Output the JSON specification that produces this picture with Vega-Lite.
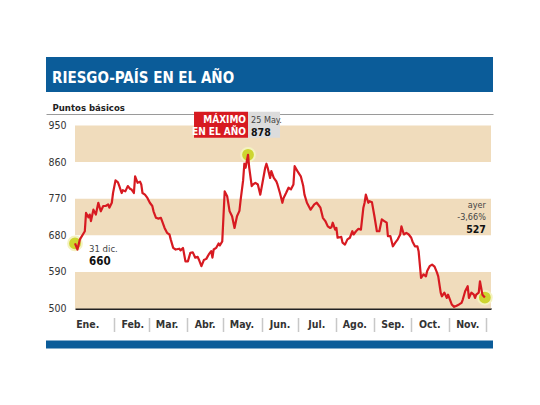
{
  "$schema": "https://vega.github.io/schema/vega-lite/v6.json",
  "description": "Riesgo-país en el año, puntos básicos (31 dic. a fines de noviembre).",
  "padding": {"left": 46, "top": 57, "right": 0, "bottom": 0},
  "background": "white",
  "datasets": {
    "franjas": [
      {"desde": 500, "hasta": 590},
      {"desde": 680, "hasta": 770},
      {"desde": 860, "hasta": 950}
    ],
    "hitos": [
      {"nombre": "inicio", "fecha": "2009-12-31", "valor": 660, "etiqueta": "31 dic."},
      {"nombre": "maximo", "fecha": "2010-05-21", "valor": 878, "etiqueta": "25 May."},
      {"nombre": "ayer", "fecha": "2010-11-30", "valor": 527, "etiqueta": "ayer", "variacion": "-3,66%"}
    ],
    "riesgo": [
      {"fecha": "2009-12-31", "valor": 660}, {"fecha": "2010-01-02", "valor": 645},
      {"fecha": "2010-01-04", "valor": 670}, {"fecha": "2010-01-08", "valor": 690},
      {"fecha": "2010-01-09", "valor": 735}, {"fecha": "2010-01-11", "valor": 724},
      {"fecha": "2010-01-12", "valor": 731}, {"fecha": "2010-01-13", "valor": 715},
      {"fecha": "2010-01-15", "valor": 743}, {"fecha": "2010-01-17", "valor": 731},
      {"fecha": "2010-01-19", "valor": 760}, {"fecha": "2010-01-21", "valor": 739},
      {"fecha": "2010-01-23", "valor": 752}, {"fecha": "2010-01-25", "valor": 752},
      {"fecha": "2010-01-27", "valor": 756}, {"fecha": "2010-01-28", "valor": 748},
      {"fecha": "2010-01-30", "valor": 760}, {"fecha": "2010-01-31", "valor": 784},
      {"fecha": "2010-02-02", "valor": 815}, {"fecha": "2010-02-04", "valor": 810},
      {"fecha": "2010-02-05", "valor": 802}, {"fecha": "2010-02-07", "valor": 784},
      {"fecha": "2010-02-08", "valor": 791}, {"fecha": "2010-02-10", "valor": 788},
      {"fecha": "2010-02-12", "valor": 801}, {"fecha": "2010-02-14", "valor": 794},
      {"fecha": "2010-02-15", "valor": 793}, {"fecha": "2010-02-17", "valor": 784},
      {"fecha": "2010-02-18", "valor": 825}, {"fecha": "2010-02-20", "valor": 809},
      {"fecha": "2010-02-22", "valor": 812}, {"fecha": "2010-02-23", "valor": 805},
      {"fecha": "2010-02-24", "valor": 784}, {"fecha": "2010-02-26", "valor": 780},
      {"fecha": "2010-02-28", "valor": 772}, {"fecha": "2010-03-02", "valor": 760},
      {"fecha": "2010-03-04", "valor": 752}, {"fecha": "2010-03-05", "valor": 739},
      {"fecha": "2010-03-07", "valor": 723}, {"fecha": "2010-03-09", "valor": 721},
      {"fecha": "2010-03-11", "valor": 723}, {"fecha": "2010-03-12", "valor": 715},
      {"fecha": "2010-03-14", "valor": 698}, {"fecha": "2010-03-16", "valor": 686},
      {"fecha": "2010-03-18", "valor": 682}, {"fecha": "2010-03-19", "valor": 670},
      {"fecha": "2010-03-21", "valor": 649}, {"fecha": "2010-03-23", "valor": 645},
      {"fecha": "2010-03-26", "valor": 647}, {"fecha": "2010-03-27", "valor": 643},
      {"fecha": "2010-03-29", "valor": 649}, {"fecha": "2010-03-31", "valor": 616},
      {"fecha": "2010-04-02", "valor": 616}, {"fecha": "2010-04-04", "valor": 637},
      {"fecha": "2010-04-06", "valor": 638}, {"fecha": "2010-04-08", "valor": 625},
      {"fecha": "2010-04-10", "valor": 627}, {"fecha": "2010-04-11", "valor": 620},
      {"fecha": "2010-04-13", "valor": 604}, {"fecha": "2010-04-15", "valor": 619},
      {"fecha": "2010-04-17", "valor": 622}, {"fecha": "2010-04-19", "valor": 633},
      {"fecha": "2010-04-21", "valor": 641}, {"fecha": "2010-04-22", "valor": 625},
      {"fecha": "2010-04-23", "valor": 645}, {"fecha": "2010-04-25", "valor": 649},
      {"fecha": "2010-04-27", "valor": 660}, {"fecha": "2010-04-28", "valor": 655},
      {"fecha": "2010-04-30", "valor": 665}, {"fecha": "2010-05-01", "valor": 727},
      {"fecha": "2010-05-02", "valor": 788}, {"fecha": "2010-05-04", "valor": 776},
      {"fecha": "2010-05-06", "valor": 739}, {"fecha": "2010-05-08", "valor": 727},
      {"fecha": "2010-05-10", "valor": 698}, {"fecha": "2010-05-12", "valor": 727},
      {"fecha": "2010-05-14", "valor": 740}, {"fecha": "2010-05-15", "valor": 768},
      {"fecha": "2010-05-17", "valor": 815}, {"fecha": "2010-05-18", "valor": 856},
      {"fecha": "2010-05-19", "valor": 846}, {"fecha": "2010-05-21", "valor": 878},
      {"fecha": "2010-05-22", "valor": 846}, {"fecha": "2010-05-24", "valor": 801},
      {"fecha": "2010-05-25", "valor": 805}, {"fecha": "2010-05-27", "valor": 809},
      {"fecha": "2010-05-29", "valor": 805}, {"fecha": "2010-05-31", "valor": 780},
      {"fecha": "2010-06-02", "valor": 813}, {"fecha": "2010-06-04", "valor": 846},
      {"fecha": "2010-06-05", "valor": 856}, {"fecha": "2010-06-06", "valor": 846},
      {"fecha": "2010-06-08", "valor": 821}, {"fecha": "2010-06-09", "valor": 838},
      {"fecha": "2010-06-11", "valor": 821}, {"fecha": "2010-06-13", "valor": 813},
      {"fecha": "2010-06-14", "valor": 805}, {"fecha": "2010-06-16", "valor": 784},
      {"fecha": "2010-06-18", "valor": 760}, {"fecha": "2010-06-19", "valor": 772},
      {"fecha": "2010-06-21", "valor": 784}, {"fecha": "2010-06-23", "valor": 797},
      {"fecha": "2010-06-25", "valor": 793}, {"fecha": "2010-06-27", "valor": 805},
      {"fecha": "2010-06-28", "valor": 850}, {"fecha": "2010-06-30", "valor": 839},
      {"fecha": "2010-07-03", "valor": 825}, {"fecha": "2010-07-05", "valor": 801},
      {"fecha": "2010-07-06", "valor": 780}, {"fecha": "2010-07-08", "valor": 760},
      {"fecha": "2010-07-11", "valor": 743}, {"fecha": "2010-07-14", "valor": 756},
      {"fecha": "2010-07-16", "valor": 760}, {"fecha": "2010-07-18", "valor": 752},
      {"fecha": "2010-07-19", "valor": 748}, {"fecha": "2010-07-21", "valor": 723},
      {"fecha": "2010-07-23", "valor": 715}, {"fecha": "2010-07-25", "valor": 702},
      {"fecha": "2010-07-27", "valor": 698}, {"fecha": "2010-07-28", "valor": 700},
      {"fecha": "2010-07-29", "valor": 711}, {"fecha": "2010-07-31", "valor": 694},
      {"fecha": "2010-08-01", "valor": 698}, {"fecha": "2010-08-02", "valor": 674},
      {"fecha": "2010-08-05", "valor": 676}, {"fecha": "2010-08-06", "valor": 662},
      {"fecha": "2010-08-08", "valor": 657}, {"fecha": "2010-08-10", "valor": 670},
      {"fecha": "2010-08-12", "valor": 674}, {"fecha": "2010-08-14", "valor": 690},
      {"fecha": "2010-08-15", "valor": 682}, {"fecha": "2010-08-17", "valor": 690},
      {"fecha": "2010-08-19", "valor": 696}, {"fecha": "2010-08-21", "valor": 694},
      {"fecha": "2010-08-23", "valor": 748}, {"fecha": "2010-08-24", "valor": 760},
      {"fecha": "2010-08-25", "valor": 780}, {"fecha": "2010-08-27", "valor": 760},
      {"fecha": "2010-08-28", "valor": 764}, {"fecha": "2010-08-30", "valor": 761},
      {"fecha": "2010-09-01", "valor": 727}, {"fecha": "2010-09-03", "valor": 690},
      {"fecha": "2010-09-05", "valor": 690}, {"fecha": "2010-09-07", "valor": 719},
      {"fecha": "2010-09-09", "valor": 715}, {"fecha": "2010-09-11", "valor": 711},
      {"fecha": "2010-09-12", "valor": 678}, {"fecha": "2010-09-14", "valor": 678},
      {"fecha": "2010-09-16", "valor": 653}, {"fecha": "2010-09-18", "valor": 662},
      {"fecha": "2010-09-20", "valor": 670}, {"fecha": "2010-09-22", "valor": 682},
      {"fecha": "2010-09-23", "valor": 702}, {"fecha": "2010-09-25", "valor": 682},
      {"fecha": "2010-09-27", "valor": 686}, {"fecha": "2010-09-29", "valor": 682},
      {"fecha": "2010-10-01", "valor": 674}, {"fecha": "2010-10-02", "valor": 665},
      {"fecha": "2010-10-04", "valor": 653}, {"fecha": "2010-10-06", "valor": 653},
      {"fecha": "2010-10-07", "valor": 641}, {"fecha": "2010-10-09", "valor": 575},
      {"fecha": "2010-10-11", "valor": 584}, {"fecha": "2010-10-13", "valor": 579},
      {"fecha": "2010-10-14", "valor": 592}, {"fecha": "2010-10-16", "valor": 604},
      {"fecha": "2010-10-18", "valor": 608}, {"fecha": "2010-10-20", "valor": 603},
      {"fecha": "2010-10-22", "valor": 588}, {"fecha": "2010-10-23", "valor": 579},
      {"fecha": "2010-10-25", "valor": 539}, {"fecha": "2010-10-26", "valor": 530},
      {"fecha": "2010-10-28", "valor": 539}, {"fecha": "2010-10-30", "valor": 526},
      {"fecha": "2010-10-31", "valor": 534}, {"fecha": "2010-11-02", "valor": 518},
      {"fecha": "2010-11-03", "valor": 510}, {"fecha": "2010-11-05", "valor": 504},
      {"fecha": "2010-11-07", "valor": 507}, {"fecha": "2010-11-09", "valor": 510},
      {"fecha": "2010-11-11", "valor": 514}, {"fecha": "2010-11-12", "valor": 522},
      {"fecha": "2010-11-14", "valor": 543}, {"fecha": "2010-11-16", "valor": 555},
      {"fecha": "2010-11-17", "valor": 526}, {"fecha": "2010-11-19", "valor": 539},
      {"fecha": "2010-11-21", "valor": 534}, {"fecha": "2010-11-22", "valor": 526},
      {"fecha": "2010-11-23", "valor": 534}, {"fecha": "2010-11-25", "valor": 539},
      {"fecha": "2010-11-26", "valor": 567}, {"fecha": "2010-11-28", "valor": 534},
      {"fecha": "2010-11-30", "valor": 527}
    ]
  },
  "spacing": -2.5,
  "vconcat": [
    {
      "data": {"values": [{}]},
      "width": 418,
      "height": 35,
      "title": {
        "text": "RIESGO-PAÍS EN EL AÑO",
        "anchor": "start",
        "frame": "group",
        "orient": "top",
        "offset": -29,
        "dx": -23,
        "color": "white",
        "fontSize": 15,
        "fontWeight": "bold"
      },
      "mark": {"type": "rect", "color": "#0b5c99"},
      "encoding": {
        "x": {
          "datum": 0,
          "type": "quantitative",
          "scale": {"domain": [0, 1], "range": [-29, 418]},
          "axis": {
            "orient": "bottom",
            "offset": 22,
            "domainColor": "#9a9a9a",
            "domainWidth": 1,
            "ticks": false,
            "labels": false,
            "grid": false,
            "title": "Puntos básicos",
            "titleX": -23,
            "titleY": -4,
            "titleAlign": "left",
            "titleAnchor": "start",
            "titleBaseline": "alphabetic",
            "titleFontSize": 9.5,
            "titleFontWeight": "bold",
            "titleColor": "#222"
          }
        },
        "x2": {"datum": 1}
      }
    },
    {
      "spacing": 8,
      "vconcat": [
        {
          "width": 416,
          "height": 183,
          "layer": [
            {
              "data": {"name": "franjas"},
              "mark": {"type": "rect", "color": "#f0dcbc"},
              "encoding": {
                "y": {
                  "field": "desde",
                  "type": "quantitative",
                  "scale": {"domain": [500, 950], "nice": false, "zero": false},
                  "axis": {
                    "title": null,
                    "values": [500, 590, 680, 770, 860, 950],
                    "tickCount": 6,
                    "domain": false,
                    "ticks": false,
                    "grid": false,
                    "labelOverlap": false,
                    "labelPadding": 9,
                    "labelFontSize": 10.5,
                    "labelColor": "#333",
                    "labelBaseline": "middle"
                  }
                },
                "y2": {"field": "hasta"}
              }
            },
            {
              "data": {"name": "hitos"},
              "mark": {"type": "point", "filled": true, "size": 190, "color": "#cdd52f", "stroke": "#f4f2c0", "strokeWidth": 2, "opacity": 1},
              "encoding": {
                "x": {"field": "fecha", "type": "temporal"},
                "y": {"field": "valor", "type": "quantitative"}
              }
            },
            {
              "data": {"name": "riesgo"},
              "mark": {"type": "line", "color": "#d71a21", "strokeWidth": 2.2, "strokeJoin": "round"},
              "encoding": {
                "x": {
                  "field": "fecha",
                  "type": "temporal",
                  "scale": {
                    "type": "utc",
                    "domain": [
                      {"year": 2009, "month": 12, "date": 31, "utc": true},
                      {"year": 2010, "month": 12, "date": 5, "utc": true}
                    ]
                  },
                  "axis": {
                    "title": null,
                    "tickCount": "month",
                    "grid": false,
                    "domainColor": "#222",
                    "domainWidth": 2,
                    "tickSize": 23,
                    "tickWidth": 1.5,
                    "tickDash": [0, 9, 14, 10],
                    "tickColor": {"condition": {"test": "utcmonth(datum.value) === 0", "value": "transparent"}, "value": "#c8c8c8"},
                    "labelExpr": "['Ene.','Feb.','Mar.','Abr.','May.','Jun.','Jul.','Ago.','Sep.','Oct.','Nov.',''][utcmonth(datum.value)]",
                    "labelOffset": {"condition": {"test": "utcmonth(datum.value) === 0", "value": 11}, "value": 18},
                    "labelAlign": "center",
                    "labelBaseline": "alphabetic",
                    "labelPadding": -4,
                    "labelFontSize": 10.5,
                    "labelFontWeight": "bold",
                    "labelColor": "#333",
                    "labelOverlap": false,
                    "labelFlush": false,
                    "labelBound": false
                  }
                },
                "y": {"field": "valor", "type": "quantitative"}
              }
            },
            {
              "data": {"name": "hitos"},
              "transform": [{"filter": "datum.nombre === 'maximo'"}],
              "mark": {"type": "point", "shape": "M-54,-43H0V-17H-54Z", "size": 4, "filled": true, "color": "#d71a21", "opacity": 1},
              "encoding": {
                "x": {"field": "fecha", "type": "temporal"},
                "y": {"field": "valor", "type": "quantitative"}
              }
            },
            {
              "data": {"name": "hitos"},
              "transform": [{"filter": "datum.nombre === 'maximo'"}],
              "mark": {"type": "point", "shape": "M0,-43H32V-17H0Z", "size": 4, "filled": true, "color": "#dcdcdc", "opacity": 1},
              "encoding": {
                "x": {"field": "fecha", "type": "temporal"},
                "y": {"field": "valor", "type": "quantitative"}
              }
            },
            {
              "data": {"name": "hitos"},
              "transform": [{"filter": "datum.nombre === 'maximo'"}],
              "mark": {"type": "text", "align": "right", "baseline": "alphabetic", "dx": -2, "dy": -32, "fontSize": 10, "fontWeight": "bold", "color": "white"},
              "encoding": {
                "x": {"field": "fecha", "type": "temporal"},
                "y": {"field": "valor", "type": "quantitative"},
                "text": {"value": "MÁXIMO"}
              }
            },
            {
              "data": {"name": "hitos"},
              "transform": [{"filter": "datum.nombre === 'maximo'"}],
              "mark": {"type": "text", "align": "right", "baseline": "alphabetic", "dx": -2, "dy": -19.3, "fontSize": 10, "fontWeight": "bold", "color": "white"},
              "encoding": {
                "x": {"field": "fecha", "type": "temporal"},
                "y": {"field": "valor", "type": "quantitative"},
                "text": {"value": "EN EL AÑO"}
              }
            },
            {
              "data": {"name": "hitos"},
              "transform": [{"filter": "datum.nombre === 'maximo'"}],
              "mark": {"type": "text", "align": "left", "baseline": "alphabetic", "dx": 3, "dy": -32, "fontSize": 9, "color": "#444"},
              "encoding": {
                "x": {"field": "fecha", "type": "temporal"},
                "y": {"field": "valor", "type": "quantitative"},
                "text": {"field": "etiqueta"}
              }
            },
            {
              "data": {"name": "hitos"},
              "transform": [{"filter": "datum.nombre === 'maximo'"}],
              "mark": {"type": "text", "align": "left", "baseline": "alphabetic", "dx": 3, "dy": -18.6, "fontSize": 10.5, "fontWeight": "bold", "color": "#111"},
              "encoding": {
                "x": {"field": "fecha", "type": "temporal"},
                "y": {"field": "valor", "type": "quantitative"},
                "text": {"field": "valor", "type": "quantitative"}
              }
            },
            {
              "data": {"name": "hitos"},
              "transform": [{"filter": "datum.nombre === 'inicio'"}],
              "mark": {"type": "text", "align": "left", "baseline": "alphabetic", "dx": 14, "dy": 8.5, "fontSize": 9.5, "color": "#444"},
              "encoding": {
                "x": {"field": "fecha", "type": "temporal"},
                "y": {"field": "valor", "type": "quantitative"},
                "text": {"field": "etiqueta"}
              }
            },
            {
              "data": {"name": "hitos"},
              "transform": [{"filter": "datum.nombre === 'inicio'"}],
              "mark": {"type": "text", "align": "left", "baseline": "alphabetic", "dx": 14, "dy": 22, "fontSize": 11.5, "fontWeight": "bold", "color": "#111"},
              "encoding": {
                "x": {"field": "fecha", "type": "temporal"},
                "y": {"field": "valor", "type": "quantitative"},
                "text": {"field": "valor", "type": "quantitative"}
              }
            },
            {
              "data": {"name": "hitos"},
              "transform": [{"filter": "datum.nombre === 'ayer'"}],
              "mark": {"type": "text", "align": "right", "baseline": "alphabetic", "dx": 1, "dy": -89.5, "fontSize": 9, "color": "#444"},
              "encoding": {
                "x": {"field": "fecha", "type": "temporal"},
                "y": {"field": "valor", "type": "quantitative"},
                "text": {"field": "etiqueta"}
              }
            },
            {
              "data": {"name": "hitos"},
              "transform": [{"filter": "datum.nombre === 'ayer'"}],
              "mark": {"type": "text", "align": "right", "baseline": "alphabetic", "dx": 1, "dy": -77.5, "fontSize": 9, "color": "#444"},
              "encoding": {
                "x": {"field": "fecha", "type": "temporal"},
                "y": {"field": "valor", "type": "quantitative"},
                "text": {"field": "variacion"}
              }
            },
            {
              "data": {"name": "hitos"},
              "transform": [{"filter": "datum.nombre === 'ayer'"}],
              "mark": {"type": "text", "align": "right", "baseline": "alphabetic", "dx": 1, "dy": -64.5, "fontSize": 10.5, "fontWeight": "bold", "color": "#111"},
              "encoding": {
                "x": {"field": "fecha", "type": "temporal"},
                "y": {"field": "valor", "type": "quantitative"},
                "text": {"field": "valor", "type": "quantitative"}
              }
            }
          ]
        },
        {
          "data": {"values": [{}]},
          "width": 418,
          "height": 8,
          "mark": {"type": "rect", "color": "#0b5c99"},
          "encoding": {
            "x": {"datum": 0, "type": "quantitative", "scale": {"domain": [0, 1], "range": [-29, 418]}, "axis": null},
            "x2": {"datum": 1}
          }
        }
      ]
    }
  ],
  "config": {
    "font": "DejaVu Sans Condensed, Roboto, sans-serif",
    "view": {"stroke": null}
  }
}
